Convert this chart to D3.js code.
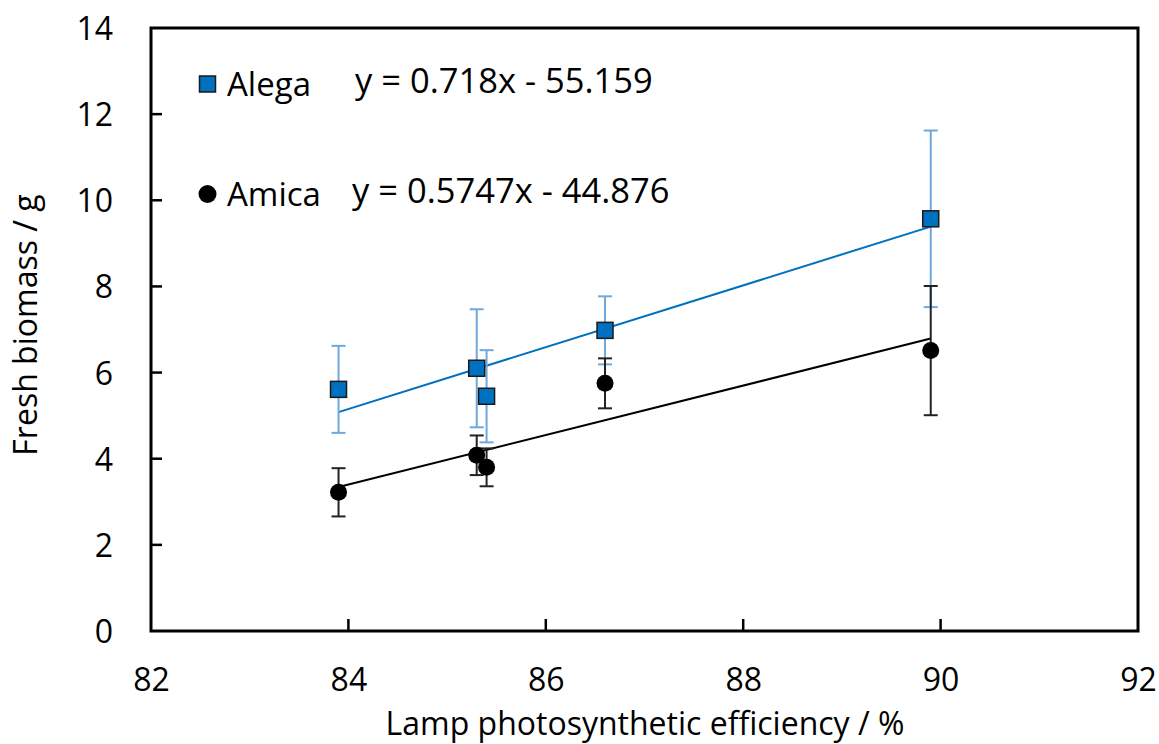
<!DOCTYPE html>
<html>
<head>
<meta charset="utf-8">
<script src="https://cdn.jsdelivr.net/npm/d3@7"></script>
<style>
  html, body { margin: 0; padding: 0; background: #fff; }
  svg { display: block; }
  text { font-family: "Open Sans", "Noto Sans", sans-serif; fill: #000; }
</style>
</head>
<body>
<svg id="chart" width="1159" height="744"></svg>
<script>
// Lamp photosynthetic efficiency (%) for each lamp
const efficiency = [83.9, 85.3, 85.4, 86.6, 89.9];

// Fresh biomass (g), means and standard deviations per cultivar
const alegaMean = [5.61, 6.10, 5.45, 6.98, 9.57];
const alegaErr  = [1.01, 1.37, 1.07, 0.79, 2.05];
const amicaMean = [3.22, 4.08, 3.80, 5.75, 6.51];
const amicaErr  = [0.56, 0.46, 0.44, 0.58, 1.50];

// Linear fits
const alegaFit = { slope: 0.718,  intercept: -55.159 };
const amicaFit = { slope: 0.5747, intercept: -44.876 };

const seriesNames = ["Alega", "Amica"];
const equations = ["y = 0.718x - 55.159", "y = 0.5747x - 44.876"];

const xTicks = [82, 84, 86, 88, 90, 92];
const yTicks = [0, 2, 4, 6, 8, 10, 12, 14];

const svg = d3.select("#chart");
const plotLeft = 151, plotRight = 1138, plotTop = 28, plotBottom = 631;

const x = d3.scaleLinear().domain([82, 92]).range([plotLeft, plotRight]);
const y = d3.scaleLinear().domain([0, 14]).range([plotBottom, plotTop]);

const series = [
  { name: seriesNames[0], mean: alegaMean, err: alegaErr, fit: alegaFit,
    line: "#0070c0", bar: "#6fa8dc", fill: "#0070c0", shape: "square" },
  { name: seriesNames[1], mean: amicaMean, err: amicaErr, fit: amicaFit,
    line: "#000000", bar: "#222222", fill: "#000000", shape: "circle" }
];

// Axis labels
const xAxis = d3.axisBottom(x).tickValues(xTicks).tickSize(0).tickPadding(0);
const gx = svg.append("g").attr("transform", `translate(0,${plotBottom})`).call(xAxis);
gx.select(".domain").remove();
gx.selectAll("text").attr("font-size", 32).attr("dy", "1.86em")
  .style("font-family", '"Open Sans", sans-serif');

const yAxis = d3.axisLeft(y).tickValues(yTicks).tickSize(0).tickPadding(0);
const gy = svg.append("g").attr("transform", `translate(113,0)`).call(yAxis);
gy.select(".domain").remove();
gy.selectAll("text").attr("font-size", 32).attr("dy", "0.36em")
  .style("font-family", '"Open Sans", sans-serif');

// Inward tick marks
svg.append("g").selectAll("line").data(xTicks.slice(1, -1)).join("line")
  .attr("x1", d => x(d)).attr("x2", d => x(d))
  .attr("y1", plotBottom).attr("y2", plotBottom - 12)
  .attr("stroke", "#000").attr("stroke-width", 2.5);
svg.append("g").selectAll("line").data(yTicks.slice(1, -1)).join("line")
  .attr("x1", plotLeft).attr("x2", plotLeft + 11)
  .attr("y1", d => y(d)).attr("y2", d => y(d))
  .attr("stroke", "#000").attr("stroke-width", 2.5);

// Plot frame
svg.append("rect")
  .attr("x", plotLeft).attr("y", plotTop)
  .attr("width", plotRight - plotLeft).attr("height", plotBottom - plotTop)
  .attr("fill", "none").attr("stroke", "#000").attr("stroke-width", 3);

// Series: trend line, error bars, markers
const xMin = d3.min(efficiency), xMax = d3.max(efficiency);
series.forEach(s => {
  const g = svg.append("g");
  g.append("line")
    .attr("x1", x(xMin)).attr("y1", y(s.fit.slope * xMin + s.fit.intercept))
    .attr("x2", x(xMax)).attr("y2", y(s.fit.slope * xMax + s.fit.intercept))
    .attr("stroke", s.line).attr("stroke-width", 2);

  const pts = efficiency.map((e, i) => ({ e, m: s.mean[i], d: s.err[i] }));
  const eb = g.append("g").attr("stroke", s.bar).attr("stroke-width", 2);
  eb.selectAll(".v").data(pts).join("line")
    .attr("x1", d => x(d.e)).attr("x2", d => x(d.e))
    .attr("y1", d => y(d.m + d.d)).attr("y2", d => y(d.m - d.d));
  eb.selectAll(".t").data(pts).join("line")
    .attr("x1", d => x(d.e) - 7).attr("x2", d => x(d.e) + 7)
    .attr("y1", d => y(d.m + d.d)).attr("y2", d => y(d.m + d.d));
  eb.selectAll(".b").data(pts).join("line")
    .attr("x1", d => x(d.e) - 7).attr("x2", d => x(d.e) + 7)
    .attr("y1", d => y(d.m - d.d)).attr("y2", d => y(d.m - d.d));

  if (s.shape === "square") {
    g.selectAll(".mk").data(pts).join("rect")
      .attr("x", d => x(d.e) - 8).attr("y", d => y(d.m) - 8)
      .attr("width", 16).attr("height", 16)
      .attr("fill", s.fill).attr("stroke", "#1a1a1a").attr("stroke-width", 1.5);
  } else {
    g.selectAll(".mk").data(pts).join("circle")
      .attr("cx", d => x(d.e)).attr("cy", d => y(d.m)).attr("r", 8.5)
      .attr("fill", s.fill);
  }
});

// Legend with fitted equations
const legend = svg.append("g");
const rows = [
  { s: series[0], cy: 84, eqX: 355 },
  { s: series[1], cy: 194, eqX: 352 }
];
rows.forEach((r, i) => {
  if (r.s.shape === "square") {
    legend.append("rect").attr("x", 199.5).attr("y", r.cy - 8)
      .attr("width", 16).attr("height", 16)
      .attr("fill", r.s.fill).attr("stroke", "#1a1a1a").attr("stroke-width", 1.5);
  } else {
    legend.append("circle").attr("cx", 207.5).attr("cy", r.cy).attr("r", 9)
      .attr("fill", r.s.fill);
  }
  legend.append("text").attr("x", 227).attr("y", r.cy).attr("dy", "0.36em")
    .attr("font-size", 33).text(r.s.name);
  legend.append("text").attr("x", r.eqX).attr("y", r.cy - 3).attr("dy", "0.36em")
    .attr("font-size", 34.5).text(equations[i]);
});

// Axis titles
svg.append("text").attr("x", 645).attr("y", 735)
  .attr("text-anchor", "middle").attr("font-size", 32)
  .text("Lamp photosynthetic efficiency / %");
svg.append("text")
  .attr("transform", "translate(37,325) rotate(-90)")
  .attr("text-anchor", "middle").attr("font-size", 32)
  .text("Fresh biomass / g");
</script>
</body>
</html>
